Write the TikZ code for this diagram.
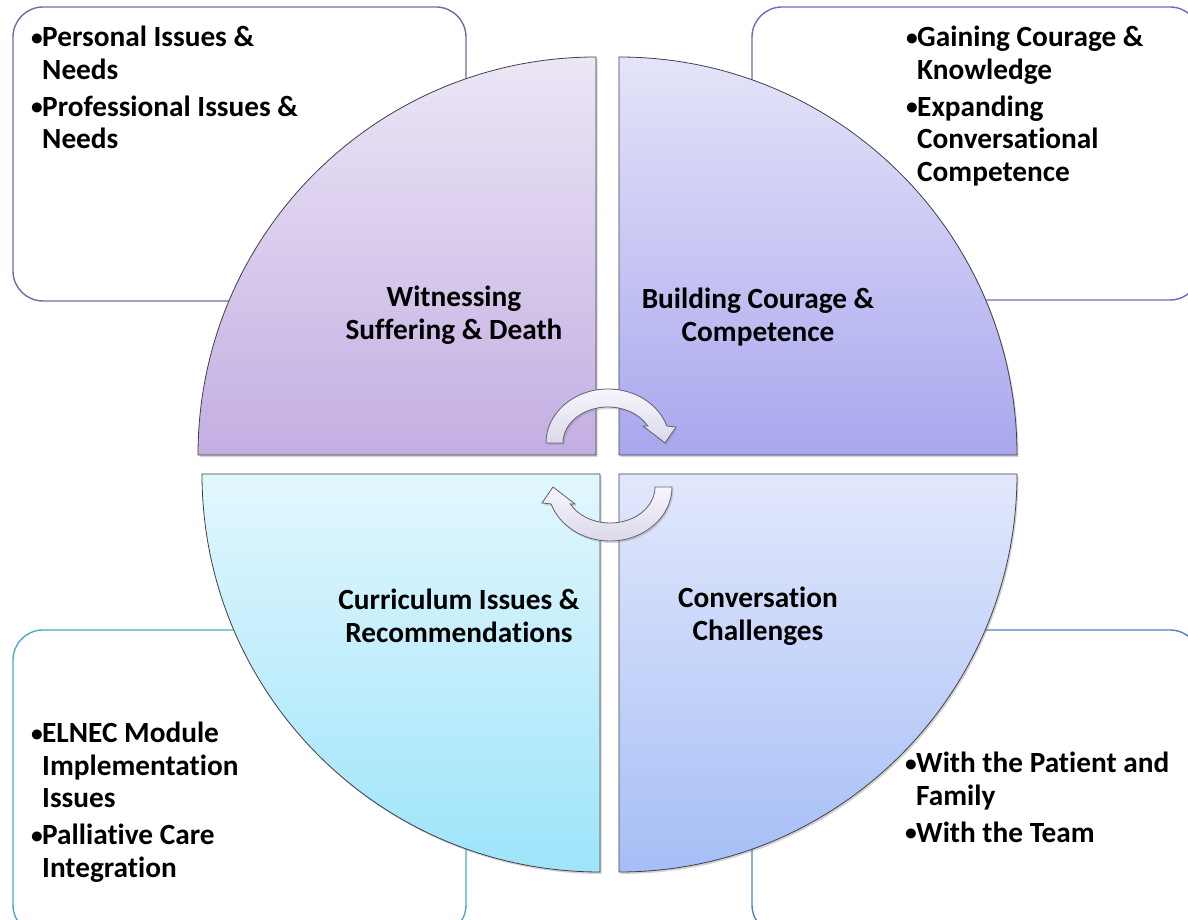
\documentclass[tikz,border=0pt]{standalone}
\usepackage{graphicx}
\usepackage{fontspec}
\setmainfont{Carlito}[Ligatures=NoCommon]
\usetikzlibrary{shadows}

\definecolor{tlTop}{HTML}{ECE6F6}
\definecolor{tlBot}{HTML}{C3AEE2}
\definecolor{trTop}{HTML}{E4E4F9}
\definecolor{trBot}{HTML}{A9A7EE}
\definecolor{blTop}{HTML}{E2F7FD}
\definecolor{blBot}{HTML}{9EE4FA}
\definecolor{brTop}{HTML}{E2E8FC}
\definecolor{brBot}{HTML}{A6BEF6}
\definecolor{tlEdge}{HTML}{8064A2}
\definecolor{trEdge}{HTML}{6B6BC4}
\definecolor{blEdge}{HTML}{4BACC6}
\definecolor{brEdge}{HTML}{4F81BD}
\definecolor{quadline}{HTML}{404048}
\definecolor{cycline}{HTML}{606070}
\definecolor{cycTop}{HTML}{F7F6FC}
\definecolor{cycBot}{HTML}{DCD8EA}

\newcommand\bigbold{\bfseries\fontsize{29.3}{32.5}\selectfont}
% a slightly smaller bullet mark
\newcommand\smallbullet{\raisebox{1.6pt}{\scalebox{0.8}{\textbullet}}}
% one bullet item with a hanging indent
\newcommand\bul[1]{\par\noindent\hangindent=12pt\hangafter=1\makebox[12pt][l]{\hspace{1pt}\smallbullet}#1\par}
% a ragged-right column of bullet items, aligned on its first baseline
\newenvironment{bulcol}[1]{\begin{minipage}[t]{#1}\bigbold\raggedright}{\end{minipage}}

\tikzset{
  quad/.style={draw=quadline, line width=0.8pt,
    drop shadow={shadow xshift=1.5pt, shadow yshift=-2pt, opacity=0.35}},
  infobox/.style={rounded corners=30pt, line width=1.4pt, fill=white},
  lbl/.style={font=\bigbold, align=center, inner sep=0pt},
  bullets/.style={inner sep=0pt, anchor=base west},
  cyc/.style={draw=cycline, line width=0.8pt, top color=cycTop, bottom color=cycBot,
    drop shadow={shadow xshift=1.5pt, shadow yshift=-2pt, opacity=0.3}},
}

\begin{document}
\begin{tikzpicture}[x=1pt,y=1pt]
\useasboundingbox (0,0) rectangle (1188,920);
\clip (0,0) rectangle (1188,920);
\fill[white] (0,0) rectangle (1188,920);

% outer text boxes
\draw[infobox, draw=tlEdge] (13,619) rectangle (466,913);
\draw[infobox, draw=trEdge] (752,620) rectangle (1200,913);
\draw[infobox, draw=blEdge] (13,-15) rectangle (466,290);
\draw[infobox, draw=brEdge] (752,-15) rectangle (1200,290);

% four quadrants of the circle
\path[quad, top color=tlTop, bottom color=tlBot]
  (596,465) -- (198,465) arc[start angle=180, end angle=90, radius=398pt] -- cycle;
\path[quad, top color=trTop, bottom color=trBot]
  (619,465) -- (619,863) arc[start angle=90, end angle=0, radius=398pt] -- cycle;
\path[quad, top color=blTop, bottom color=blBot]
  (600,446) -- (600,48) arc[start angle=270, end angle=180, radius=398pt] -- cycle;
\path[quad, top color=brTop, bottom color=brBot]
  (619,446) -- (1017,446) arc[start angle=0, end angle=-90, radius=398pt] -- cycle;

% circular arrows in the middle
\def\cycarrow{(546,477) arc[start angle=180, end angle=18.3, x radius=62pt, y radius=54pt]
  -- (676,493) -- (665,477) -- (643,494) -- (647.7,493.9)
  arc[start angle=28, end angle=180, x radius=45pt, y radius=36pt] -- cycle}
\path[cyc] \cycarrow;
\begin{scope}[rotate around={180:(609,455)}]
  \path[cyc] \cycarrow;
\end{scope}

% quadrant titles
\node[lbl] (witness) at (454,605) {Witnessing\\Suffering \& Death};
\node[lbl] (courage) at (758,603) {Building Courage \&\\Competence};
\node[lbl] (curric)  at (459,304) {Curriculum Issues \&\\Recommendations};
\node[lbl] (convers) at (758,304) {Conversation\\Challenges};

% bullet lists in the boxes
\node[bullets] (tlList) at (30,873) {\begin{bulcol}{300pt}
  \bul{Personal Issues \&\newline Needs}\vspace{4.5pt}
  \bul{Professional Issues \&\newline Needs}\end{bulcol}};
\node[bullets] (trList) at (905,873) {\begin{bulcol}{275pt}
  \bul{Gaining Courage \&\newline Knowledge}\vspace{4.5pt}
  \bul{Expanding\newline Conversational\newline Competence}\end{bulcol}};
\node[bullets] (blList) at (30,177) {\begin{bulcol}{300pt}
  \bul{ELNEC Module\newline Implementation\newline Issues}\vspace{4.5pt}
  \bul{Palliative Care\newline Integration}\end{bulcol}};
\node[bullets] (brList) at (904,147) {\begin{bulcol}{280pt}
  \bul{With the Patient and\newline Family}\vspace{4.5pt}
  \bul{With the Team}\end{bulcol}};
\end{tikzpicture}
\end{document}
